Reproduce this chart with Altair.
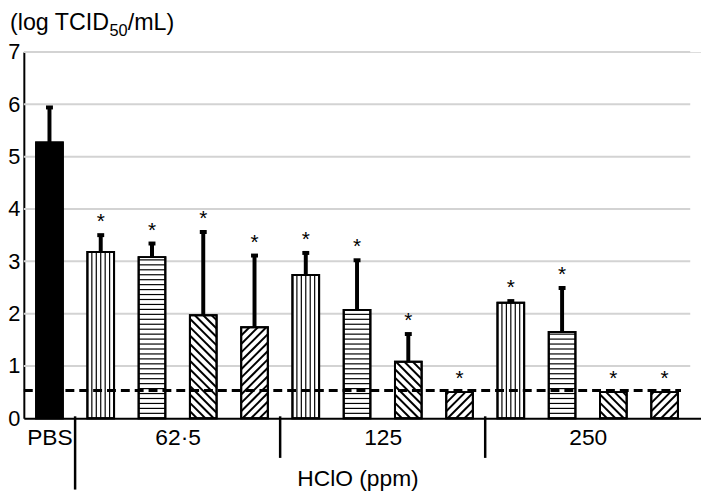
import altair as alt
import pandas as pd
import numpy as np

# ---------------- data ----------------
group_names = ["PBS", "62·5", "125", "250"]
bar_group = [0, 1, 1, 1, 1, 2, 2, 2, 2, 3, 3, 3, 3]
bar_pattern = ["solid", "vertical", "horizontal", "backslash", "slash",
               "vertical", "horizontal", "backslash", "slash",
               "vertical", "horizontal", "backslash", "slash"]
means = [5.27, 3.18, 3.08, 1.97, 1.74, 2.74, 2.07, 1.08, 0.50, 2.21, 1.65, 0.50, 0.50]
upper = [5.94, 3.50, 3.34, 3.56, 3.11, 3.16, 3.02, 1.61, None, 2.24, 2.49, None, None]
significant = [False] + [True] * 12
detection_limit = [0.53]
y_ticks = [0, 1, 2, 3, 4, 5, 6, 7]
title_parts = ["(log TCID", "50", "/mL)"]     # middle part is a subscript
x_title = "HClO (ppm)"

# ---------------- layout ----------------
FONT = "Liberation Sans"
W, H = 684, 370
n = len(means)
X_DOM = [-0.5, n - 0.5 + 0.21]
Y_DOM = [0, 7]
px_x = W / (X_DOM[1] - X_DOM[0])
px_y = H / (Y_DOM[1] - Y_DOM[0])
HALF = 0.26

bars = pd.DataFrame({
    "i": list(range(n)),
    "mean": means,
    "upper": [np.nan if u is None else u for u in upper],
    "pattern": bar_pattern,
    "sig": significant,
})
bars["x0"] = bars["i"] - HALF
bars["x1"] = bars["i"] + HALF
bars["star"] = bars["upper"].fillna(bars["mean"])

# group label positions = centre of the bars in each group
centers = [float(np.mean([i for i in range(n) if bar_group[i] == g])) for g in range(len(group_names))]
bounds = [i + 0.5 for i in range(n - 1) if bar_group[i] != bar_group[i + 1]]
label_expr = " : ".join(
    [f"datum.value == {c} ? '{name}'" for c, name in zip(centers, group_names)]
) + " : ''"

# hatching segments derived from bar geometry
segs = []
for i, (m, p) in enumerate(zip(means, bar_pattern)):
    x0, x1 = i - HALF, i + HALF
    w = (x1 - x0) * px_x
    h = m * px_y
    if p == "vertical":
        for k in range(1, 6):
            xx = x0 + k * (x1 - x0) / 6
            segs.append(dict(x=xx, y=0, x2=xx, y2=m, kind="thin"))
    elif p == "horizontal":
        k = 1
        while k * 5 < h - 1.5:
            yy = k * 5 / px_y
            segs.append(dict(x=x0, y=yy, x2=x1, y2=yy, kind="thin"))
            k += 1
    elif p in ("backslash", "slash"):
        s = 8.5
        c = -w
        while c < h + w:
            if p == "slash":      # y = x + c
                lo, hi = max(0, -c), min(w, h - c)
                if hi > lo:
                    segs.append(dict(x=x0 + lo / px_x, y=(lo + c) / px_y,
                                     x2=x0 + hi / px_x, y2=(hi + c) / px_y, kind="thick"))
            else:                 # y = -x + c
                lo, hi = max(0, c - h), min(w, c)
                if hi > lo:
                    segs.append(dict(x=x0 + lo / px_x, y=(c - lo) / px_y,
                                     x2=x0 + hi / px_x, y2=(c - hi) / px_y, kind="thick"))
            c += s
hatch = pd.DataFrame(segs)

grid = pd.DataFrame({"y": [t for t in y_ticks if t > 0]})
grid["x"] = -0.5
grid["x2"] = n - 0.5
lod = pd.DataFrame({"y": detection_limit, "x": [-0.5], "x2": [n - 1 + HALF + 0.06]})
seps = pd.DataFrame({"x": bounds})

# title pieces laid out with Liberation Sans (Arial) advance widths
ADV = {'(': 333, 'l': 222, 'o': 556, 'g': 556, ' ': 278, 'T': 611, 'C': 722, 'I': 278,
       'D': 722, '5': 556, '0': 556, '/': 278, 'm': 833, 'L': 556, ')': 333}
T_MAIN, T_SUB = 23.5, 16.5
sizes = [T_MAIN, T_SUB, T_MAIN]
shifts = [0, 6, 0]
xpos, cur = [], -14.0
for part, sz in zip(title_parts, sizes):
    xpos.append(cur)
    cur += sum(ADV.get(ch, 556) for ch in part) / 1000 * sz
title_df = pd.DataFrame({"t": title_parts, "px": xpos, "py": [-22 + s for s in shifts],
                         "sz": sizes})

# ---------------- shared encodings ----------------
x_axis = alt.Axis(values=centers, labelExpr=label_expr, ticks=False, grid=False,
                  domainColor="black", domainWidth=2, labelFont=FONT, labelFontSize=23,
                  labelColor="black", labelPadding=8, labelFlush=False, labelOverlap=False,
                  labelBaseline="top",
                  title=x_title, titleFont=FONT, titleFontSize=23, titleFontWeight="normal",
                  titleColor="black", titleX=337, titleY=68, titleAlign="center",
                  titleBaseline="alphabetic", titleAnchor="start")
y_axis = alt.Axis(values=y_ticks, ticks=False, grid=False, domainColor="black",
                  domainWidth=2, labelFont=FONT, labelFontSize=22, labelColor="black",
                  labelPadding=4, labelFlush=False, title="")
xs = alt.Scale(domain=X_DOM, nice=False, zero=False)
ys = alt.Scale(domain=Y_DOM, nice=False, zero=False)


def X(f):
    return alt.X(f, type="quantitative", scale=xs, axis=x_axis)


def Y(f):
    return alt.Y(f, type="quantitative", scale=ys, axis=y_axis)


grid_l = alt.Chart(grid).mark_rule(color="#d3d3d3", strokeWidth=2).encode(
    x=X("x"), x2="x2", y=Y("y"))

bar_fill = alt.Chart(bars).mark_rect(stroke="black", strokeWidth=2).encode(
    x=X("x0"), x2="x1", y=Y("mean"), y2=alt.datum(0),
    fill=alt.condition(alt.datum.pattern == "solid", alt.value("black"), alt.value("white")))

hatch_thin = alt.Chart(hatch).transform_filter(alt.datum.kind == "thin").mark_rule(
    color="black", strokeWidth=1.2).encode(x=X("x"), x2="x2", y=Y("y"), y2="y2")
hatch_thick = alt.Chart(hatch).transform_filter(alt.datum.kind == "thick").mark_rule(
    color="black", strokeWidth=2).encode(x=X("x"), x2="x2", y=Y("y"), y2="y2")

bar_outline = alt.Chart(bars).mark_rect(stroke="black", strokeWidth=2, fillOpacity=0).encode(
    x=X("x0"), x2="x1", y=Y("mean"), y2=alt.datum(0))

lod_l = alt.Chart(lod).mark_rule(color="black", strokeWidth=3, strokeDash=[9, 5]).encode(
    x=X("x"), x2="x2", y=Y("y"))

err_stem = alt.Chart(bars).transform_filter("isValid(datum.upper)").mark_rule(
    color="black", strokeWidth=4).encode(x=X("i"), y=Y("mean"), y2="upper")
err_cap = alt.Chart(bars).transform_filter("isValid(datum.upper)").mark_tick(
    color="black", orient="horizontal", size=7, thickness=4, opacity=1).encode(
    x=X("i"), y=Y("upper"))

stars = alt.Chart(bars).transform_filter(alt.datum.sig).mark_text(
    text="*", font=FONT, fontSize=21, color="black", dy=-7, baseline="alphabetic").encode(
    x=X("i"), y=Y("star"))

sep_long = alt.Chart(seps.iloc[:1]).mark_rule(color="black", strokeWidth=2.5).encode(
    x=X("x"), y=alt.value(H - 2), y2=alt.value(H + 72))
sep_short = alt.Chart(seps.iloc[1:]).mark_rule(color="black", strokeWidth=2.5).encode(
    x=X("x"), y=alt.value(H - 2), y2=alt.value(H + 40))

title_l = alt.Chart(title_df).mark_text(
    font=FONT, color="black", align="left", baseline="alphabetic").encode(
    x=alt.X("px:Q", scale=None), y=alt.Y("py:Q", scale=None), text="t:N",
    size=alt.Size("sz:Q", scale=None))

chart = alt.layer(
    grid_l, bar_fill, hatch_thin, hatch_thick, bar_outline, lod_l,
    err_stem, err_cap, stars, sep_long, sep_short, title_l,
).properties(
    width=W, height=H,
    autosize=alt.AutoSizeParams(type="none"),
    padding={"left": 16, "top": 42, "right": 0, "bottom": 71},
).configure_view(stroke=None).configure(background="white")

chart.save("out.html", embed_options={"renderer": "svg", "actions": False})
